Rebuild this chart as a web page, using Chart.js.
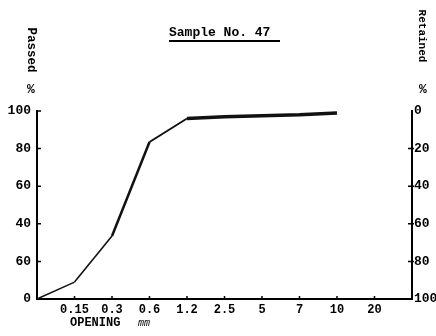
<!DOCTYPE html>
<html>
<head>
<meta charset="utf-8">
<script src="https://cdn.jsdelivr.net/npm/chart.js@4/dist/chart.umd.min.js"></script>
<style>
  html, body { margin: 0; padding: 0; background: #fff; }
  #wrap { width: 436px; height: 336px; }
</style>
</head>
<body>
<div id="wrap"><canvas id="chart"></canvas></div>
<script>
// sieve openings (blank at both ends = the two axes)
let openings = ["", "0.15", "0.3", "0.6", "1.2", "2.5", "5", "7", "10", "20", ""];
// percent passed
let passed = [0, 9, 33.5, 83.5, 96, 97, 97.5, 98, 99];
// left tick labels as typed on the sheet (the 20 reads "60")
let passedTicks = ["0", "60", "40", "60", "80", "100"];
let retainedTicks = ["0", "20", "40", "60", "80", "100"];

let mono = "'Liberation Mono', 'DejaVu Sans Mono', monospace";

// titles, underline and inward tick marks
let paperPlugin = {
    id: "paper",
    afterDraw(chart)
    {
        let ctx = chart.ctx;
        let a = chart.chartArea;
        ctx.save();
        ctx.fillStyle = "#000";
        ctx.strokeStyle = "#000";

        ctx.font = "bold 13px " + mono;
        ctx.textAlign = "left";
        ctx.textBaseline = "middle";
        ctx.fillText("Sample No. 47", 169, 33);
        ctx.lineWidth = 2;
        ctx.beginPath();
        ctx.moveTo(169, 41);
        ctx.lineTo(280, 41);
        ctx.stroke();

        // rotated axis names
        ctx.textAlign = "center";
        ctx.save();
        ctx.font = "bold 12.5px " + mono;
        ctx.translate(31, 50);
        ctx.rotate(Math.PI / 2);
        ctx.fillText("Passed", 0, 0);
        ctx.restore();
        ctx.save();
        ctx.font = "bold 11px " + mono;
        ctx.translate(422, 36);
        ctx.rotate(Math.PI / 2);
        ctx.fillText("Retained", 0, 0);
        ctx.restore();
        ctx.font = "bold 13px " + mono;
        ctx.fillText("%", 31, 90);
        ctx.fillText("%", 423, 90);

        ctx.textAlign = "left";
        ctx.font = "bold 12px " + mono;
        ctx.fillText("OPENING", 70, 323);
        ctx.font = "italic 10px " + mono;
        ctx.fillText("mm", 138, 323);

        // little tick marks pointing into the plot
        ctx.lineWidth = 1.5;
        let x = chart.scales.x, y = chart.scales.y, y2 = chart.scales.y2;
        ctx.beginPath();
        for (let i = 1; i < openings.length - 1; i++)
        {
            let px = x.getPixelForTick(i);
            ctx.moveTo(px, a.bottom);
            ctx.lineTo(px, a.bottom - 3);
        }
        for (let i = 1; i < y.ticks.length; i++)
        {
            let py = y.getPixelForTick(i);
            ctx.moveTo(a.left, py);
            ctx.lineTo(a.left + 4, py);
        }
        for (let i = 1; i < y2.ticks.length - 1; i++)
        {
            let py = y2.getPixelForTick(i);
            ctx.moveTo(a.right - 4, py);
            ctx.lineTo(a.right + 2, py);
        }
        ctx.stroke();
        ctx.restore();
    }
};

let widths = [1.5, 1.6, 2.5, 2, 3.5, 3.5, 3.5, 3.5];

let myChart = document.getElementById("chart").getContext("2d");
let display = new Chart(myChart,
{
    type: "line",
    data:
    {
        labels: openings,
        datasets: [
            {
                label: "Passed",
                data: passed,
                borderColor: "#111",
                borderWidth: 2,
                pointRadius: 0,
                tension: 0,
                segment: {
                    borderWidth: c => widths[c.p0DataIndex]
                }
            }
        ]
    },
    options:
    {
        responsive: true,
        maintainAspectRatio: false,
        animation: false,
        layout: { padding: { top: 111, left: 0, right: 0, bottom: 0 } },
        plugins: {
            legend: { display: false },
            tooltip: { enabled: false }
        },
        scales: {
            x: {
                offset: false,
                grid: { drawOnChartArea: false, drawTicks: false },
                border: { display: true, color: "#000", width: 2 },
                ticks: {
                    color: "#000",
                    font: { family: mono, size: 12, weight: "bold" },
                    padding: 4,
                    maxRotation: 0,
                    autoSkip: false
                },
                afterFit: s => { s.height = 37; }
            },
            y: {
                min: 0,
                max: 100,
                grid: { drawOnChartArea: false, drawTicks: false },
                border: { display: true, color: "#000", width: 2 },
                ticks: {
                    stepSize: 20,
                    color: "#000",
                    font: { family: mono, size: 13, weight: "bold" },
                    padding: 6,
                    callback: v => passedTicks[Math.round(v / 20)]
                },
                afterFit: s => { s.width = 37; }
            },
            y2: {
                position: "right",
                reverse: true,
                min: 0,
                max: 100,
                grid: { drawOnChartArea: false, drawTicks: false },
                border: { display: true, color: "#000", width: 2 },
                ticks: {
                    stepSize: 20,
                    color: "#000",
                    font: { family: mono, size: 13, weight: "bold" },
                    padding: 2,
                    callback: v => retainedTicks[Math.round(v / 20)]
                },
                afterFit: s => { s.width = 24; }
            }
        }
    },
    plugins: [paperPlugin]
});
</script>
</body>
</html>
